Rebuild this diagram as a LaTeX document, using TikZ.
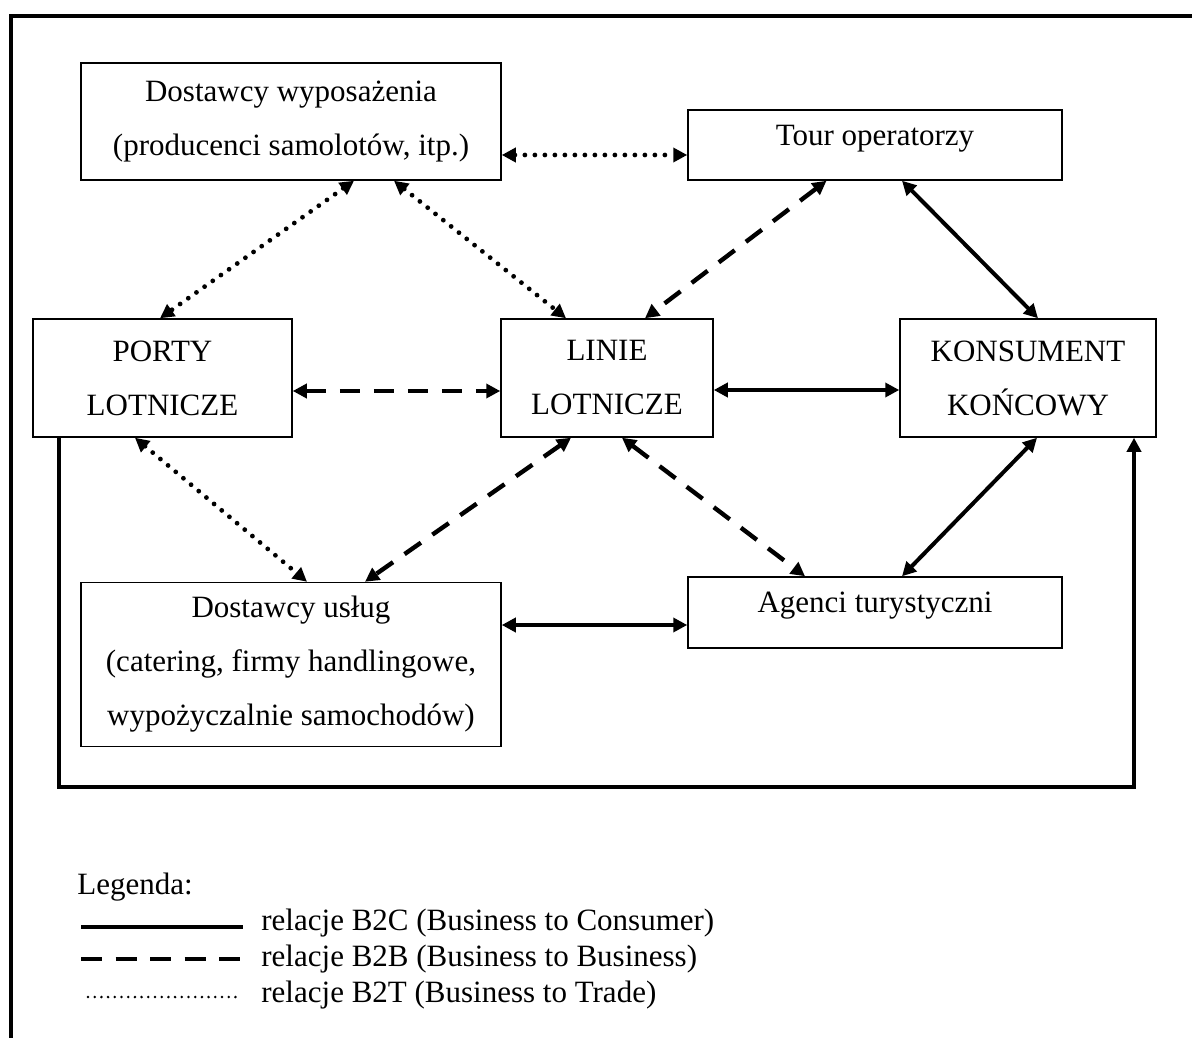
\documentclass[tikz,border=0pt]{standalone}
\usepackage{fontspec}
\setmainfont{Liberation Serif}
\usetikzlibrary{arrows.meta}

\begin{document}
\begin{tikzpicture}[x=0.5pt, y=-0.5pt,
        >={Triangle[length=7pt, width=7pt]},
        every node/.style={font=\fontsize{15.5}{27}\selectfont},
        box/.style={draw, line width=0.75pt, inner sep=0pt, align=center},
        onebox/.style={box, text depth=10pt},
        b2c/.style={line width=2pt, <->},
        b2b/.style={line width=2.2pt, dash pattern=on 10pt off 7pt, <->},
        b2t/.style={line width=2.4pt, line cap=round, dash pattern=on 0pt off 5pt, <->}]
    \useasboundingbox (0,0) rectangle (1192,1037);
    \draw [line width=2.2pt] (11,1045) -- (11,16) -- (1200,16);

    \node[box, minimum width=210pt, minimum height=58.5pt] (dw) at (291,121.5)
        {Dostawcy wyposażenia\\(producenci samolotów, itp.)};
    \node[onebox, minimum width=187pt, minimum height=35pt] (tour) at (875,145) {Tour operatorzy};
    \node[box, minimum width=129.5pt, minimum height=59pt] (porty) at (162.5,378) {PORTY\\LOTNICZE};
    \node[box, minimum width=106pt, minimum height=59pt] (linie) at (607,378) {LINIE\\LOTNICZE};
    \node[box, minimum width=128pt, minimum height=59pt] (kons) at (1028,378) {KONSUMENT\\KOŃCOWY};
    \node[box, minimum width=210pt, minimum height=82pt] (uslugi) at (291,664.5)
        {Dostawcy usług\\(catering, firmy handlingowe,\\wypożyczalnie samochodów)};
    \node[onebox, minimum width=187pt, minimum height=35.5pt] (agenci) at (875,612.5) {Agenci turystyczni};

    % B2T
    \draw [b2t] ([shift={(0,33.5)}]dw.east) -- ([shift={(0,10)}]tour.west);
    \draw [b2t] ([shift={(63,0)}]dw.south) -- ([shift={(-2.5,0)}]porty.north);
    \draw [b2t] ([shift={(103,0)}]dw.south) -- ([shift={(-41,0)}]linie.north);
    \draw [b2t] ([shift={(-27.5,0)}]porty.south) -- ([shift={(16,0)}]uslugi.north);
    % B2B
    \draw [b2b] ([shift={(-48.5,0)}]tour.south) -- ([shift={(38,0)}]linie.north);
    \draw [b2b] ([shift={(0,13)}]porty.east) -- ([shift={(0,13)}]linie.west);
    \draw [b2b] ([shift={(-36,0)}]linie.south) -- ([shift={(74,0)}]uslugi.north);
    \draw [b2b] ([shift={(15,0)}]linie.south) -- ([shift={(-70,0)}]agenci.north);
    % B2C
    \draw [b2c] ([shift={(27,0)}]tour.south) -- ([shift={(10,0)}]kons.north);
    \draw [b2c] ([shift={(0,12)}]linie.east) -- ([shift={(0,12)}]kons.west);
    \draw [b2c] ([shift={(9,0)}]kons.south) -- ([shift={(27,0)}]agenci.north);
    \draw [b2c] ([shift={(0,-39.5)}]uslugi.east) -- ([shift={(0,12.5)}]agenci.west);
    \coordinate (corner) at (1134,787);
    \draw [b2c, ->] ([shift={(-103.5,0)}]porty.south) |- (corner) -- ([shift={(106,0)}]kons.south);

    % legenda
    \node[anchor=west, inner sep=0pt] (leg) at (77,887) {Legenda:};
    \node[anchor=west, inner sep=0pt] (lc) at (261,923) {relacje B2C (Business to Consumer)};
    \node[anchor=west, inner sep=0pt] (lb) at (261,959) {relacje B2B (Business to Business)};
    \node[anchor=west, inner sep=0pt] (lt) at (261,995) {relacje B2T (Business to Trade)};
    \draw [line width=2.2pt] ([shift={(-180,4)}]lc.west) -- ([shift={(-18,4)}]lc.west);
    \draw [line width=2.2pt, dash pattern=on 10.5pt off 6.75pt] ([shift={(-180,0)}]lb.west) -- ([shift={(-18,0)}]lb.west);
    \draw [line width=1.4pt, line cap=round, dash pattern=on 0pt off 3.35pt] ([shift={(-173,2)}]lt.west) -- ([shift={(-19,2)}]lt.west);
\end{tikzpicture}
\end{document}
